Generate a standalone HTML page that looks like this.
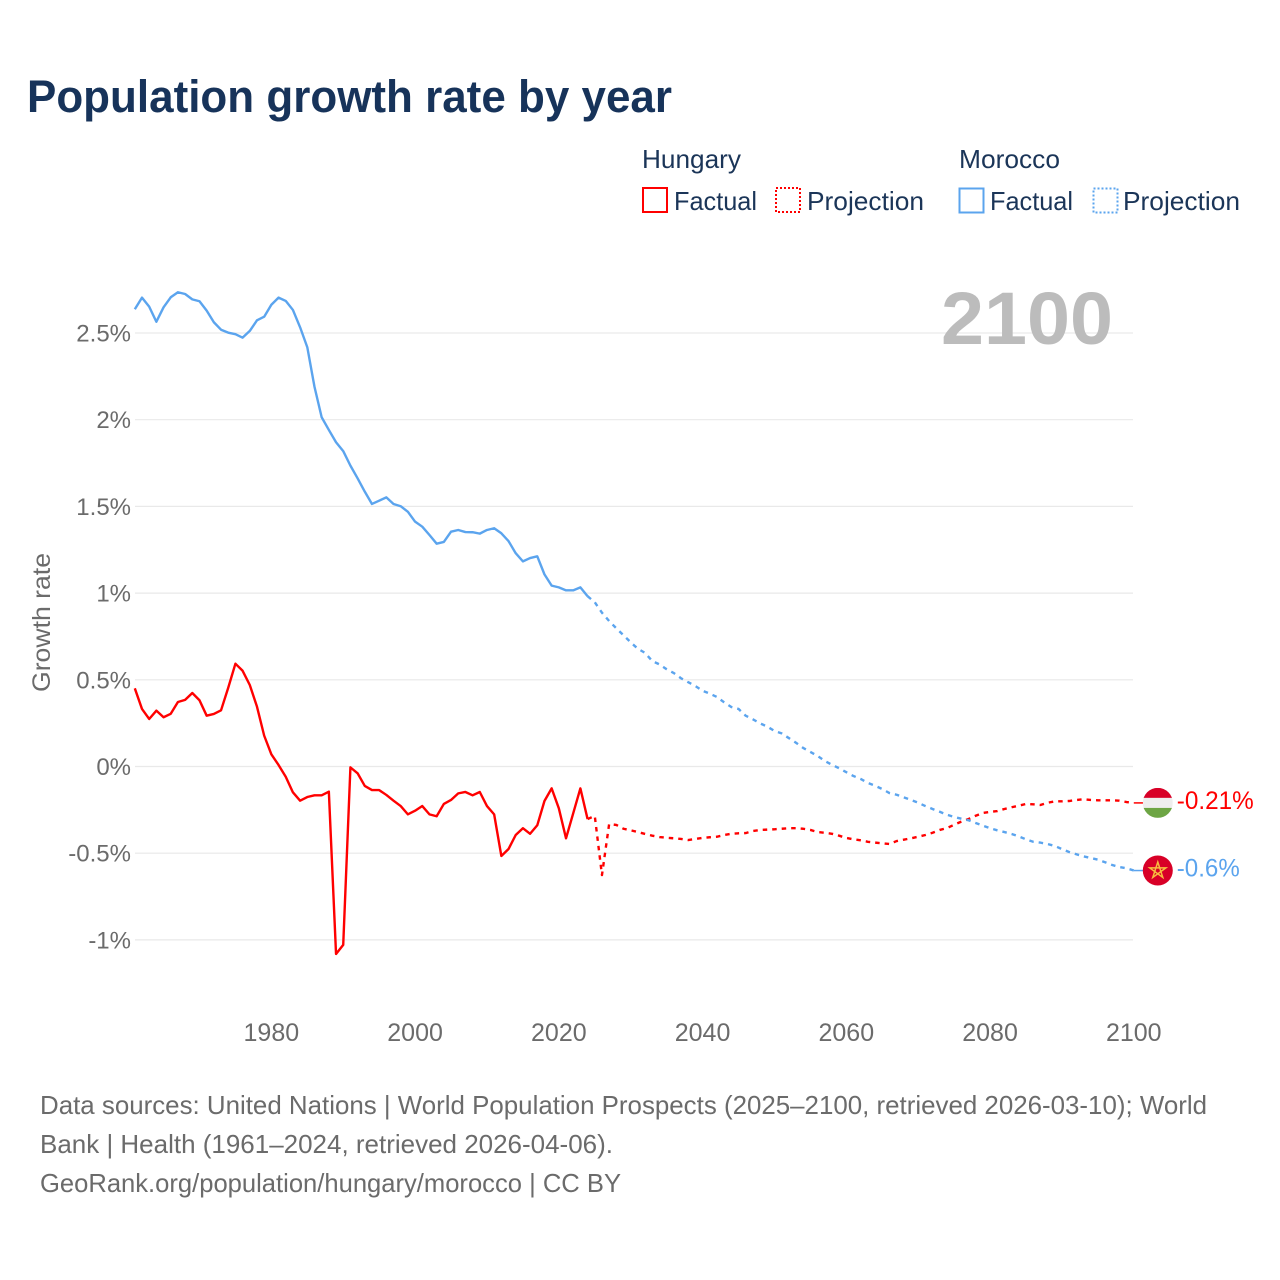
<!DOCTYPE html>
<html lang="en">
<head>
<meta charset="utf-8">
<title>Population growth rate by year</title>
<style>
html,body{margin:0;padding:0;background:#fff;}
svg{display:block;font-family:"Liberation Sans",sans-serif;}
</style>
</head>
<body>
<svg id="chart" width="1280" height="1280" viewBox="0 0 1280 1280" xmlns="http://www.w3.org/2000/svg">
  <rect width="1280" height="1280" fill="#fff"/>
  <text x="27" y="112" font-size="45" font-weight="700" fill="#17335a" textLength="645" lengthAdjust="spacingAndGlyphs">Population growth rate by year</text>

  <g font-size="26" fill="#1b3558">
    <text x="642" y="168" textLength="99" lengthAdjust="spacingAndGlyphs">Hungary</text>
    <g>
      <rect x="643" y="188" width="24" height="24" fill="none" stroke="#ff0000" stroke-width="2"/>
      <text x="674" y="210" textLength="83" lengthAdjust="spacingAndGlyphs">Factual</text>
    </g>
    <g>
      <rect x="776" y="188" width="24" height="24" fill="none" stroke="#ff0000" stroke-width="2" stroke-dasharray="2 2"/>
      <text x="807" y="210" textLength="117" lengthAdjust="spacingAndGlyphs">Projection</text>
    </g>
    <text x="959" y="168" textLength="101" lengthAdjust="spacingAndGlyphs">Morocco</text>
    <g>
      <rect x="959.5" y="188.5" width="24" height="24" fill="none" stroke="#5ba4ee" stroke-width="2"/>
      <text x="990" y="210" textLength="83" lengthAdjust="spacingAndGlyphs">Factual</text>
    </g>
    <g>
      <rect x="1093.5" y="188.5" width="24" height="24" fill="none" stroke="#5ba4ee" stroke-width="2" stroke-dasharray="2 2"/>
      <text x="1123" y="210" textLength="117" lengthAdjust="spacingAndGlyphs">Projection</text>
    </g>
  </g>

  <g id="grid"></g>
  <text x="941" y="344" font-size="74" font-weight="700" fill="#bcbcbc" textLength="172" lengthAdjust="spacingAndGlyphs">2100</text>
  <g id="y-ticks" font-size="24" fill="#6b6b6b" text-anchor="end"></g>
  <g id="x-ticks" font-size="25" fill="#6b6b6b" text-anchor="middle"></g>
  <text transform="translate(50 692) rotate(-90)" font-size="25" fill="#6b6b6b" textLength="139" lengthAdjust="spacingAndGlyphs">Growth rate</text>
  <g id="series" fill="none" stroke-linejoin="round"></g>
  <g id="ends"></g>

  <g font-size="26" fill="#6b6b6b">
    <text x="40" y="1114" textLength="1167" lengthAdjust="spacingAndGlyphs">Data sources: United Nations | World Population Prospects (2025–2100, retrieved 2026-03-10); World</text>
    <text x="40" y="1153" textLength="573" lengthAdjust="spacingAndGlyphs">Bank | Health (1961–2024, retrieved 2026-04-06).</text>
    <text x="40" y="1192" textLength="581" lengthAdjust="spacingAndGlyphs">GeoRank.org/population/hungary/morocco | CC BY</text>
  </g>
</svg>
<script>
const factualStartYear = 1961;
const projectionStartYear = 2024;
const yTickValues = [2.5, 2, 1.5, 1, 0.5, 0, -0.5, -1];
const yTickLabels = ['2.5%', '2%', '1.5%', '1%', '0.5%', '0%', '-0.5%', '-1%'];
const xTickValues = [1980, 2000, 2020, 2040, 2060, 2080, 2100];
const hungaryEndLabel = '-0.21%';
const moroccoEndLabel = '-0.6%';

const hungaryFactual = [
  0.451, 0.332, 0.274, 0.322, 0.284, 0.304, 0.372, 0.384, 0.424,
  0.382, 0.293, 0.303, 0.324, 0.454, 0.593, 0.552, 0.470, 0.345, 0.178,
  0.070, 0.009, -0.059, -0.149, -0.197, -0.176, -0.166, -0.166, -0.145, -1.081,
  -1.029, -0.005, -0.039, -0.112, -0.136, -0.136, -0.164, -0.197, -0.228, -0.276,
  -0.255, -0.228, -0.276, -0.287, -0.216, -0.193, -0.155, -0.147, -0.166, -0.147,
  -0.228, -0.276, -0.516, -0.476, -0.395, -0.356, -0.388, -0.339, -0.199, -0.126,
  -0.241, -0.414, -0.270, -0.126, -0.303
];
const hungaryProjection = [
  -0.303, -0.285, -0.626, -0.332, -0.337, -0.359,
  -0.368, -0.378, -0.389, -0.399, -0.407, -0.411, -0.414, -0.418, -0.424, -0.418,
  -0.412, -0.408, -0.405, -0.395, -0.388, -0.385, -0.384, -0.372, -0.366, -0.364,
  -0.362, -0.359, -0.356, -0.356, -0.359, -0.366, -0.378, -0.382, -0.388, -0.399,
  -0.412, -0.420, -0.426, -0.434, -0.439, -0.443, -0.447, -0.430, -0.422, -0.414,
  -0.405, -0.395, -0.382, -0.366, -0.355, -0.336, -0.318, -0.303, -0.284, -0.268,
  -0.262, -0.257, -0.245, -0.235, -0.226, -0.216, -0.218, -0.222, -0.209, -0.201,
  -0.201, -0.199, -0.193, -0.189, -0.193, -0.195, -0.195, -0.195, -0.197, -0.205,
  -0.21
];
const moroccoFactual = [
  2.637, 2.704, 2.652, 2.565, 2.648, 2.706, 2.735, 2.725, 2.694,
  2.683, 2.629, 2.562, 2.519, 2.502, 2.493, 2.473, 2.512, 2.573, 2.594,
  2.663, 2.704, 2.685, 2.633, 2.533, 2.418, 2.190, 2.014, 1.941, 1.870,
  1.819, 1.735, 1.662, 1.585, 1.514, 1.533, 1.552, 1.514, 1.501, 1.469,
  1.412, 1.383, 1.335, 1.285, 1.295, 1.354, 1.364, 1.352, 1.351, 1.343,
  1.364, 1.374, 1.345, 1.300, 1.230, 1.183, 1.202, 1.212, 1.108, 1.043,
  1.033, 1.016, 1.016, 1.033, 0.982
];
const moroccoProjection = [
  0.982, 0.947, 0.887, 0.839, 0.797, 0.757,
  0.716, 0.679, 0.655, 0.608, 0.589, 0.561, 0.539, 0.509, 0.486, 0.464,
  0.437, 0.420, 0.401, 0.370, 0.343, 0.332, 0.293, 0.272, 0.249, 0.230,
  0.205, 0.191, 0.164, 0.137, 0.107, 0.084, 0.061, 0.032, 0.010, -0.010,
  -0.033, -0.055, -0.072, -0.095, -0.111, -0.130, -0.153, -0.163, -0.178, -0.193,
  -0.209, -0.228, -0.245, -0.261, -0.278, -0.291, -0.301, -0.310, -0.326, -0.341,
  -0.356, -0.368, -0.378, -0.389, -0.403, -0.420, -0.434, -0.439, -0.447, -0.458,
  -0.476, -0.493, -0.506, -0.518, -0.528, -0.537, -0.552, -0.568, -0.580, -0.587,
  -0.6
];

const NS = 'http://www.w3.org/2000/svg';
function xScale(year) { return 134.8 + (year - 1961) * 7.187; }
function yScale(value) { return 766.5 - value * 173.4; }
function make(tag, attrs, parent) {
  const node = document.createElementNS(NS, tag);
  for (const key in attrs) node.setAttribute(key, attrs[key]);
  parent.appendChild(node);
  return node;
}
function linePath(values, startYear) {
  return values.map(function (v, i) {
    return (i ? 'L' : 'M') + xScale(startYear + i).toFixed(2) + ' ' + yScale(v).toFixed(2);
  }).join('');
}

const grid = document.getElementById('grid');
const yTicks = document.getElementById('y-ticks');
yTickValues.forEach(function (v, i) {
  const gl = make('line', {x1: 135, x2: 1133, y1: yScale(v), y2: yScale(v), stroke: '#e9e9e9', 'stroke-width': 1.2}, grid);
  
  
  const t = make('text', {x: 131, y: yScale(v) + 8.5}, yTicks);
  
  
  t.textContent = yTickLabels[i];
});
const xTicks = document.getElementById('x-ticks');
xTickValues.forEach(function (year) {
  const t = make('text', {x: xScale(year), y: 1041}, xTicks);
  
  
  t.textContent = String(year);
});

const seriesGroup = document.getElementById('series');
const RED = '#ff0000';
const BLUE = '#5ba4ee';
const LINE_WIDTH = 2.4;

const hf = make('path', {d: linePath(hungaryFactual, factualStartYear), stroke: RED, 'stroke-width': LINE_WIDTH}, seriesGroup);


const hp = make('path', {d: linePath(hungaryProjection, projectionStartYear), stroke: RED, 'stroke-width': LINE_WIDTH, 'stroke-dasharray': '4.5 5'}, seriesGroup);


const mf = make('path', {d: linePath(moroccoFactual, factualStartYear), stroke: BLUE, 'stroke-width': LINE_WIDTH}, seriesGroup);


const mp = make('path', {d: linePath(moroccoProjection, projectionStartYear), stroke: BLUE, 'stroke-width': LINE_WIDTH, 'stroke-dasharray': '4.5 5'}, seriesGroup);



const ends = document.getElementById('ends');
const lastX = xScale(2100);
const flagX = lastX + 24;
const hungaryY = yScale(hungaryProjection[hungaryProjection.length - 1]);
const moroccoY = yScale(moroccoProjection[moroccoProjection.length - 1]);

const hc = make('line', {x1: lastX, x2: flagX - 14, y1: hungaryY, y2: hungaryY, stroke: RED, 'stroke-width': 1.5}, ends);


const mc = make('line', {x1: lastX, x2: flagX - 14, y1: moroccoY, y2: moroccoY, stroke: BLUE, 'stroke-width': 1.5}, ends);



const hFlag = make('g', {}, ends);


const defs = make('defs', {}, ends);
const clip = make('clipPath', {id: 'hu-clip'}, defs);
make('circle', {cx: flagX, cy: hungaryY, r: 15}, clip);
const hBands = make('g', {'clip-path': 'url(#hu-clip)'}, hFlag);
make('rect', {x: flagX - 15, y: hungaryY - 15, width: 30, height: 10, fill: '#d80027'}, hBands);
make('rect', {x: flagX - 15, y: hungaryY - 5, width: 30, height: 10, fill: '#eeeeee'}, hBands);
make('rect', {x: flagX - 15, y: hungaryY + 5, width: 30, height: 10, fill: '#6da544'}, hBands);

const mFlag = make('g', {}, ends);


make('circle', {cx: flagX, cy: moroccoY, r: 15, fill: '#d80027'}, mFlag);
const starPoints = [0, 2, 4, 1, 3].map(function (k) {
  const a = -Math.PI / 2 + k * 2 * Math.PI / 5;
  return (flagX + 8.5 * Math.cos(a)).toFixed(2) + ',' + (moroccoY + 8.5 * Math.sin(a)).toFixed(2);
}).join(' ');
make('polygon', {points: starPoints, fill: 'none', stroke: '#f7bd3f', 'stroke-width': 1.5}, mFlag);

const hl = make('text', {x: flagX + 19, y: hungaryY + 6, fill: RED, 'font-size': 25}, ends);


hl.setAttribute('textLength', '77');
hl.setAttribute('lengthAdjust', 'spacingAndGlyphs');
hl.textContent = hungaryEndLabel;
const ml = make('text', {x: flagX + 19, y: moroccoY + 6, fill: BLUE, 'font-size': 25}, ends);


ml.setAttribute('textLength', '63');
ml.setAttribute('lengthAdjust', 'spacingAndGlyphs');
ml.textContent = moroccoEndLabel;
</script>
</body>
</html>
